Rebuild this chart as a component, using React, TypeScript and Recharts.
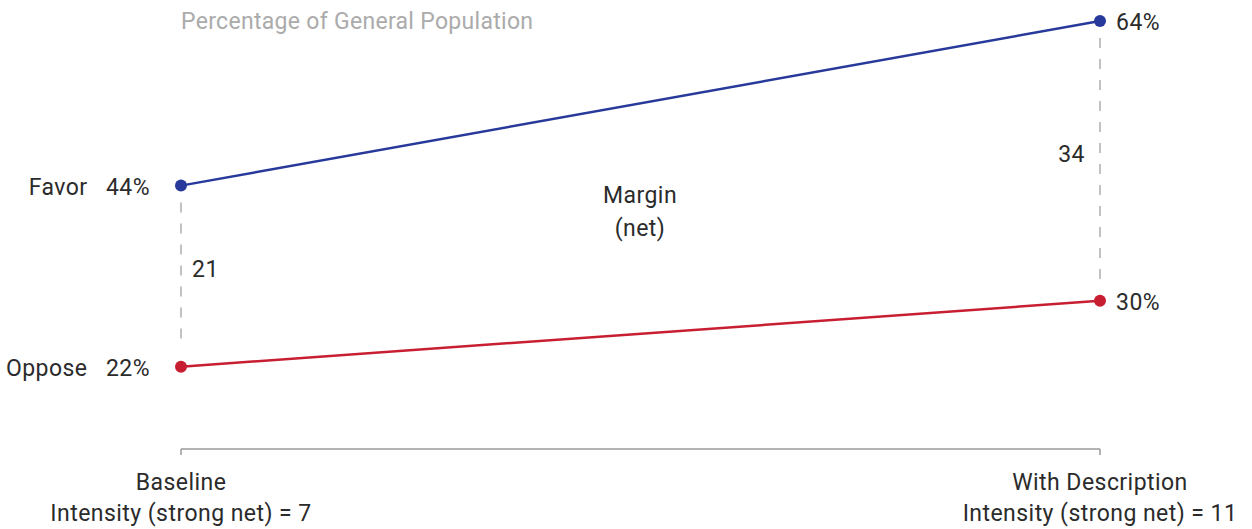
import { LineChart, Line, XAxis, YAxis, ReferenceLine, LabelList } from 'recharts';

const stages = ['Baseline', 'With Description'];
const intensity = [7, 11];
const favor = [44, 64];
const oppose = [22, 30];
const margins = [21, 34];

const data = stages.map((stage, i) => ({
  stage,
  favor: favor[i],
  oppose: oppose[i],
}));

const FONT = 'Roboto, "Liberation Sans", sans-serif';
const INK = '#2b2b2b';
const BLUE = '#27399a';
const RED = '#c81e32';
const FS = 23;
const LS = 0.45;

const StageTick = (props: any) => {
  const { x, y, payload, index } = props;
  return (
    <text x={x} textAnchor='middle' fontFamily={FONT} fontSize={FS} letterSpacing={LS} fill={INK}>
      <tspan x={x} y={y + 33}>{payload.value}</tspan>
      <tspan x={x} y={y + 64}>{`Intensity (strong net) = ${intensity[index]}`}</tspan>
    </text>
  );
};

// point labels: name + value on the left, value only on the right
const pointLabel = (name: string) => (props: any) => {
  const { x, y, value, index } = props;
  if (index === 0) {
    return (
      <text x={x - 31} y={y + 9} textAnchor='end' fontFamily={FONT} fontSize={FS} letterSpacing={LS} fill={INK}>
        {`${name}\u00a0\u00a0\u00a0${value}%`}
      </text>
    );
  }
  return (
    <text x={x + 16} y={y + 9} fontFamily={FONT} fontSize={FS} letterSpacing={LS} fill={INK}>
      {`${value}%`}
    </text>
  );
};

// dashed gap line between the two points, inset from the dots
const gapShape = (side: 'right' | 'left', value: number, lift: number) => (props: any) => {
  const { x1, y1, x2, y2 } = props;
  const top = Math.min(y1, y2) + 17;
  const bottom = Math.max(y1, y2) - 18;
  const mid = (top + bottom) / 2 - lift;
  return (
    <g>
      <line x1={x1} x2={x2} y1={top} y2={bottom} stroke='#a8a8a8' strokeWidth={1.4} strokeDasharray='10 11' />
      <text
        x={side === 'right' ? x1 + 11 : x1 - 15}
        y={mid + 8}
        textAnchor={side === 'right' ? 'start' : 'end'}
        fontFamily={FONT}
        fontSize={FS}
        letterSpacing={LS}
        fill={INK}
      >
        {value}
      </text>
    </g>
  );
};

export default function App() {
  return (
    <div style={{ position: 'absolute', left: 0, top: 0, width: 1252, height: 529, background: '#fff' }}>
      <LineChart width={1252} height={529} data={data} margin={{ top: 21, right: 152, bottom: 0, left: 181 }}>
        <XAxis
          dataKey='stage'
          height={80}
          stroke='#9a9a9a'
          strokeWidth={1.5}
          tickSize={6}
          tick={<StageTick />}
          interval={0}
        />
        <YAxis hide domain={[12, 64]} />
        <ReferenceLine
          segment={[{ x: stages[0], y: favor[0] }, { x: stages[0], y: oppose[0] }]}
          shape={gapShape('right', margins[0], 7)}
        />
        <ReferenceLine
          segment={[{ x: stages[1], y: favor[1] }, { x: stages[1], y: oppose[1] }]}
          shape={gapShape('left', margins[1], 6)}
        />
        <Line
          dataKey='favor'
          stroke={BLUE}
          strokeWidth={2.5}
          dot={{ r: 6, fill: BLUE, stroke: BLUE, strokeWidth: 0 }}
          isAnimationActive={false}
        >
          <LabelList dataKey='favor' content={pointLabel('Favor')} />
        </Line>
        <Line
          dataKey='oppose'
          stroke={RED}
          strokeWidth={2.5}
          dot={{ r: 6, fill: RED, stroke: RED, strokeWidth: 0 }}
          isAnimationActive={false}
        >
          <LabelList dataKey='oppose' content={pointLabel('Oppose')} />
        </Line>
        <text x={181} y={29} fontFamily={FONT} fontSize={23} letterSpacing={0.3} fill='#ababab'>
          Percentage of General Population
        </text>
        <text x={640} textAnchor='middle' fontFamily={FONT} fontSize={FS} letterSpacing={LS} fill={INK}>
          <tspan x={640} y={203}>Margin</tspan>
          <tspan x={640} y={236}>(net)</tspan>
        </text>
      </LineChart>
    </div>
  );
}
